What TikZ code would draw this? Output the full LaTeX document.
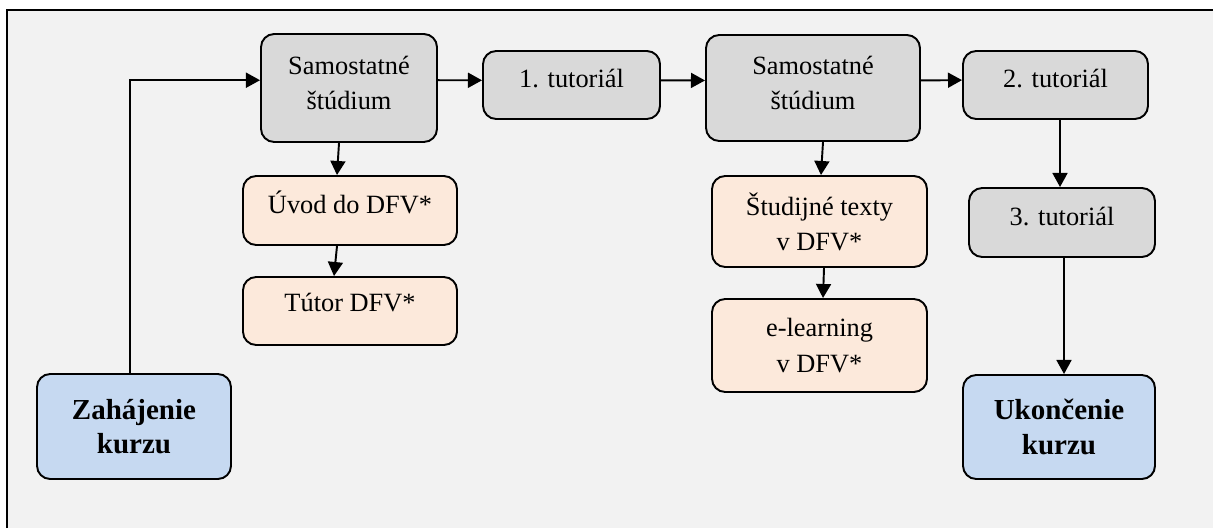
\documentclass[tikz,border=0pt]{standalone}
\usepackage{fontspec}
\setmainfont{Liberation Serif}
\usetikzlibrary{arrows.meta}

\definecolor{pagegray}{HTML}{F2F2F2}
\definecolor{boxgray}{HTML}{D9D9D9}
\definecolor{boxpeach}{HTML}{FCE9DB}
\definecolor{boxblue}{HTML}{C6D9F1}

\tikzset{
  box/.style={draw, line width=1.1pt, rounded corners=7.5pt, align=center,
    font=\fontsize{15}{20}\selectfont},
  study/.style={box, fill=boxgray, text depth=5.5pt},
  tutorial/.style={box, fill=boxgray, text depth=7.5pt},
  material/.style={box, fill=boxpeach},
  note/.style={material, text depth=10pt},
  milestone/.style={box, fill=boxblue, font=\fontsize{16.5}{19.5}\selectfont\bfseries},
  arr/.style={-{Triangle[length=8pt, width=8.5pt]}, line width=1.1pt},
}

\begin{document}
\begin{tikzpicture}
  \useasboundingbox (0, 0) rectangle (24.26, 10.56);
  \fill[pagegray] (0.14, 0) rectangle (24.26, 10.36);
  \draw[line width=1pt] (0.14, 0) -- (0.14, 10.36) -- (24.26, 10.36);

  \node[milestone, minimum width=3.88cm, minimum height=2.10cm] (start) at (2.68, 2.03) {Zahájenie\\kurzu};
  \node[study, minimum width=3.52cm, minimum height=2.16cm] (sam1) at (6.98, 8.80) {Samostatné\\štúdium};
  \node[note, minimum width=4.28cm, minimum height=1.38cm] (uvod) at (7.00, 6.35) {Úvod do DFV*};
  \node[note, minimum width=4.28cm, minimum height=1.36cm] (tutor) at (7.00, 4.34) {Tútor DFV*};
  \node[tutorial, minimum width=3.54cm, minimum height=1.36cm] (tut1) at (11.43, 8.86) {1. tutoriál};
  \node[study, minimum width=4.28cm, minimum height=2.12cm] (sam2) at (16.26, 8.80) {Samostatné\\štúdium};
  \node[material, minimum width=4.30cm, minimum height=1.82cm] (stud) at (16.39, 6.13) {Študijné texty\\v DFV*};
  \node[material, minimum width=4.30cm, minimum height=1.86cm] (elearn) at (16.39, 3.65) {e-learning\\v DFV*};
  \node[tutorial, minimum width=3.70cm, minimum height=1.36cm] (tut2) at (21.11, 8.86) {2. tutoriál};
  \node[tutorial, minimum width=3.72cm, minimum height=1.38cm] (tut3) at (21.24, 6.11) {3. tutoriál};
  \node[milestone, minimum width=3.84cm, minimum height=2.08cm] (finish) at (21.18, 2.02) {Ukončenie\\kurzu};

  % main line
  \draw[arr] ([xshift=-0.08cm]start.north) |- (sam1.175);
  \draw[arr] (sam1.5) -- (tut1.177);
  \draw[arr] (tut1.3) -- (sam2.176);
  \draw[arr] (sam2.4) -- (tut2.177);
  % study materials
  \draw[arr] ([xshift=-0.2cm]sam1.south) -- ([xshift=-0.26cm]uvod.north);
  \draw[arr] ([xshift=-0.26cm]uvod.south) -- ([xshift=-0.32cm]tutor.north);
  \draw[arr] ([xshift=0.2cm]sam2.south) -- ([xshift=0.03cm]stud.north);
  \draw[arr] ([xshift=0.09cm]stud.south) -- ([xshift=0.07cm]elearn.north);
  % end of course
  \draw[arr] ([xshift=0.09cm]tut2.south) -- ([xshift=-0.04cm]tut3.north);
  \draw[arr] ([xshift=0.04cm]tut3.south) -- ([xshift=0.1cm]finish.north);
\end{tikzpicture}
\end{document}
